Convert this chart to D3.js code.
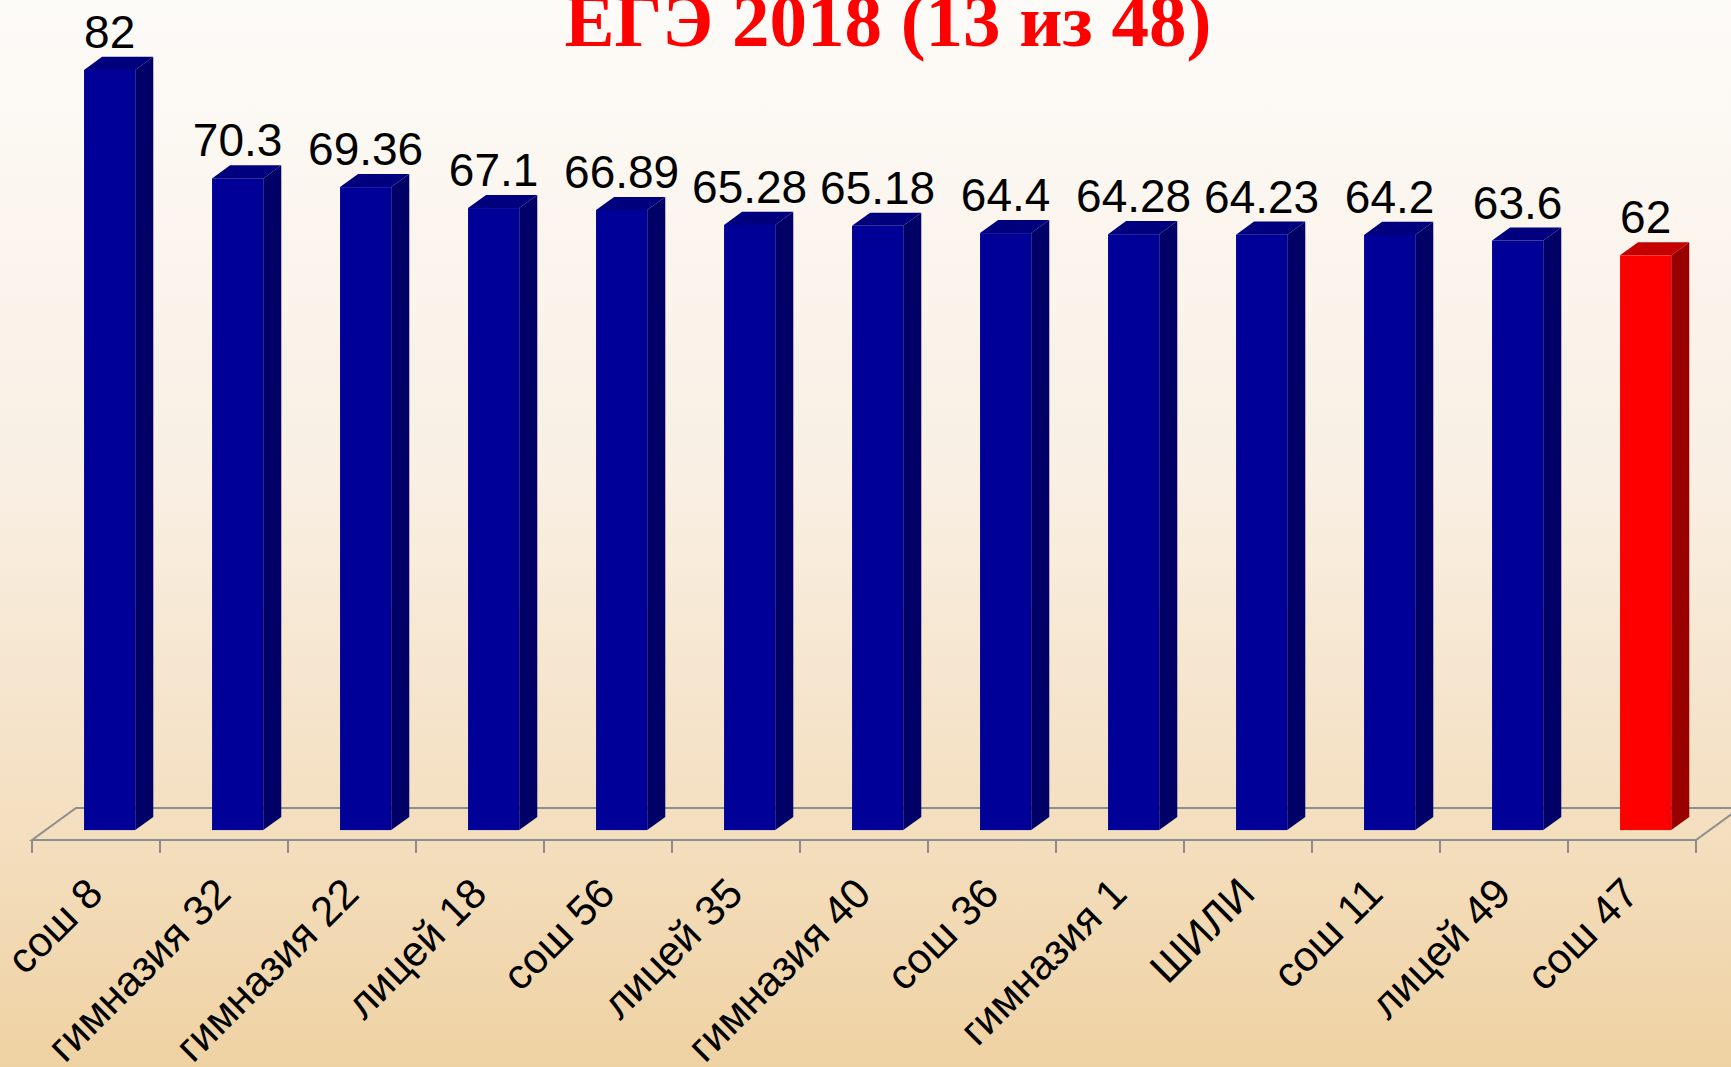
<!DOCTYPE html>
<html>
<head>
<meta charset="utf-8">
<script src="https://cdn.jsdelivr.net/npm/d3@7"></script>
<style>
    html, body { margin: 0; padding: 0; overflow: hidden; }
    svg { display: block; }
</style>
</head>
<body>
<div id="chart"></div>
<script>
// Data
const schools = ["сош 8", "гимназия 32", "гимназия 22", "лицей 18", "сош 56", "лицей 35",
    "гимназия 40", "сош 36", "гимназия 1", "ШИЛИ", "сош 11", "лицей 49", "сош 47"];
const scores = [82, 70.3, 69.36, 67.1, 66.89, 65.28, 65.18, 64.4, 64.28, 64.23, 64.2, 63.6, 62];
const highlighted = ["сош 47"];
const title = "ЕГЭ 2018 (13 из 48)";

// Declare constants
const canvas = { w: 1731, h: 1067 };
const floor = { left: 32, right: 1696, front: 840, dx: 44, dy: 32 };
const barDepth = { start: 0.31, size: 0.41 };
const colors = {
    blue: { front: "#000099", side: "#000066", top: "#00007e" },
    red: { front: "#ff0000", side: "#990000", top: "#c40000" }
};

// Scales
const xFloor = d3.scaleBand()
    .domain(schools)
    .range([floor.left, floor.right]);
const xBar = d3.scaleBand()
    .domain(schools)
    .range([floor.left, floor.right])
    .paddingInner(0.6)
    .paddingOuter(0.3);
const base = floor.front - barDepth.start * floor.dy;
const y = d3.scaleLinear()
    .domain([0, 90])
    .range([base, base - 90 * 9.27]);

const ox = barDepth.start * floor.dx;
const ddx = barDepth.size * floor.dx;
const ddy = barDepth.size * floor.dy;

// Draw SVG
const svg = d3.select("#chart")
    .append("svg")
    .attr("width", canvas.w)
    .attr("height", canvas.h);

const grad = svg.append("defs")
    .append("linearGradient")
    .attr("id", "bg")
    .attr("x1", 0).attr("y1", 0).attr("x2", 0).attr("y2", 1);
[[0, "#fdfbf8"], [0.45, "#f9efe3"], [0.75, "#f4e0c2"], [1, "#efd2a3"]].forEach(([o, c]) => {
    grad.append("stop").attr("offset", o).attr("stop-color", c);
});

svg.append("rect")
    .attr("width", canvas.w)
    .attr("height", canvas.h)
    .attr("fill", "url(#bg)");

// Floor
svg.append("path")
    .attr("d", `M${floor.left},${floor.front} L${floor.right},${floor.front}
        L${floor.right + floor.dx},${floor.front - floor.dy}
        L${floor.left + floor.dx},${floor.front - floor.dy} Z`)
    .attr("fill", "none")
    .attr("stroke", "#8e8e8e")
    .attr("stroke-width", 2);

const tickPos = schools.map(d => xFloor(d)).concat([floor.right]);
svg.append("g")
    .selectAll("line")
    .data(tickPos)
    .enter()
    .append("line")
    .attr("x1", d => d).attr("x2", d => d)
    .attr("y1", floor.front).attr("y2", floor.front + 13)
    .attr("stroke", "#8e8e8e")
    .attr("stroke-width", 2);

// Bars
const bars = svg.append("g")
    .selectAll("g")
    .data(schools.map((s, i) => ({ name: s, value: scores[i] })))
    .enter()
    .append("g")
    .attr("class", "bar");

const pal = d => highlighted.includes(d.name) ? colors.red : colors.blue;
const x0 = d => xBar(d.name) + ox;
const x1 = d => xBar(d.name) + ox + xBar.bandwidth();

bars.append("rect")
    .attr("x", x0)
    .attr("y", d => y(d.value))
    .attr("width", xBar.bandwidth())
    .attr("height", d => base - y(d.value))
    .attr("fill", d => pal(d).front);

bars.append("path")
    .attr("d", d => `M${x1(d)},${y(d.value)} L${x1(d) + ddx},${y(d.value) - ddy}
        L${x1(d) + ddx},${base - ddy} L${x1(d)},${base} Z`)
    .attr("fill", d => pal(d).side);

bars.append("path")
    .attr("d", d => `M${x0(d)},${y(d.value)} L${x0(d) + ddx},${y(d.value) - ddy}
        L${x1(d) + ddx},${y(d.value) - ddy} L${x1(d)},${y(d.value)} Z`)
    .attr("fill", d => pal(d).top);

// Value labels
bars.append("text")
    .attr("x", d => x0(d) + xBar.bandwidth() / 2)
    .attr("y", d => y(d.value) - 22)
    .attr("text-anchor", "middle")
    .attr("font-family", "'Liberation Sans', Arial, sans-serif")
    .attr("font-size", 46)
    .attr("fill", "#000")
    .text(d => d.value);

// Category labels
svg.append("g")
    .selectAll("text")
    .data(schools)
    .enter()
    .append("text")
    .attr("transform", d => `translate(${xFloor(d) + xFloor.bandwidth() / 2 + 9},896) rotate(-45)`)
    .attr("text-anchor", "end")
    .attr("font-family", "'Liberation Sans', Arial, sans-serif")
    .attr("font-size", 42)
    .attr("fill", "#000")
    .text(d => d);

// Title
svg.append("text")
    .attr("x", 888)
    .attr("y", 46)
    .attr("text-anchor", "middle")
    .attr("font-family", "'Liberation Serif', 'Times New Roman', serif")
    .attr("font-weight", "bold")
    .attr("font-size", 75)
    .attr("fill", "#ff0000")
    .text(title);
</script>
</body>
</html>
